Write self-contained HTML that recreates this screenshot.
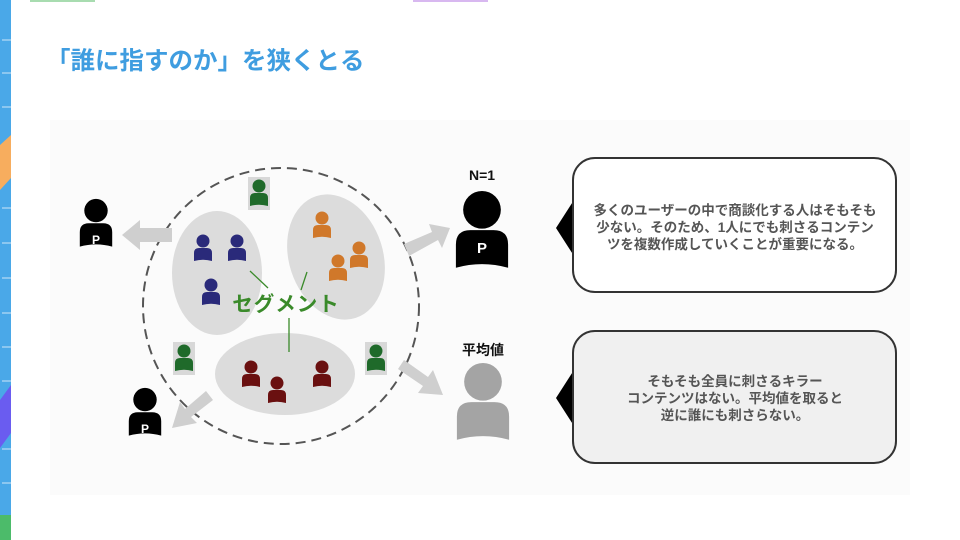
<!DOCTYPE html>
<html><head><meta charset="utf-8"><style>
body{margin:0;width:960px;height:540px;overflow:hidden;background:#fff;font-family:"Liberation Sans","Noto Sans CJK JP",sans-serif}
</style></head><body>
<svg width="960" height="540" xmlns="http://www.w3.org/2000/svg" style="position:absolute;left:0;top:0">
<defs>
<g id="p"><circle cx="0" cy="-8" r="6.5"/><path d="M-9,12 L-9,4 Q-9,-1 -4,-1 L4,-1 Q9,-1 9,4 L9,12 Q0,9.5 -9,12Z"/></g>
</defs>
<rect x="0" y="0" width="11" height="540" fill="#4aa8e8"/>
<polygon points="0,145 11,135 11,178 0,190" fill="#f7ad5e"/>
<polygon points="0,400 11,385 11,433 0,448" fill="#6a5cf0"/>
<rect x="0" y="515" width="11" height="25" fill="#4cbb6a"/>
<g stroke="#cfe6f8" stroke-width="1">
<line x1="2" y1="40" x2="11" y2="40"/><line x1="2" y1="73" x2="11" y2="73"/><line x1="2" y1="107" x2="11" y2="107"/>
<line x1="2" y1="208" x2="11" y2="208"/><line x1="2" y1="243" x2="11" y2="243"/><line x1="2" y1="278" x2="11" y2="278"/>
<line x1="2" y1="313" x2="11" y2="313"/><line x1="2" y1="347" x2="11" y2="347"/><line x1="2" y1="381" x2="11" y2="381"/>
<line x1="2" y1="449" x2="11" y2="449"/><line x1="2" y1="483" x2="11" y2="483"/>
</g>
<rect x="30" y="0" width="65" height="2" fill="#a8dcb0"/>
<rect x="413" y="0" width="75" height="2" fill="#d8b8f0"/>
<text x="46" y="69" font-size="24.5" font-weight="bold" fill="#3f9de0">「誰に指すのか」を狭くとる</text>
<rect x="50" y="120" width="860" height="375" fill="#fbfbfb"/>

<ellipse cx="217" cy="273" rx="45" ry="62" fill="#dcdcdc"/>
<ellipse cx="336" cy="257" rx="47" ry="64" transform="rotate(-18 336 257)" fill="#dcdcdc"/>
<ellipse cx="285" cy="374" rx="70" ry="41" fill="#dcdcdc"/>
<circle cx="281" cy="306" r="138" fill="none" stroke="#555" stroke-width="2" stroke-dasharray="10,6"/>

<g fill="#cfcfcf">
<polygon points="172,228 140,228 140,220 122,235 140,250 140,242 172,242"/>
<polygon points="404,244 432,232 429,224 450,228 442,248 438,240 409,256"/>
<polygon points="404,360 428,377 433,370 443,395 418,393 423,386 398,369"/>
<polygon points="206,391 185,409 180,402 172,428 197,423 191,417 213,400"/>
</g>

<g stroke="#3a8a2a" stroke-width="1.3">
<line x1="250" y1="271" x2="268" y2="288"/><line x1="307" y1="272" x2="301" y2="290"/><line x1="289" y1="318" x2="289" y2="352"/>
</g>
<text x="286" y="311" font-size="20.5" font-weight="bold" fill="#3a8a2a" text-anchor="middle" letter-spacing="1">セグメント</text>

<g fill="#2a2a7a"><use href="#p" x="203" y="249"/><use href="#p" x="237" y="249"/><use href="#p" x="211" y="293"/></g>
<g fill="#d0782a"><use href="#p" x="322" y="226"/><use href="#p" x="338" y="269"/><use href="#p" x="359" y="256"/></g>
<g fill="#6a1010"><use href="#p" x="251" y="375"/><use href="#p" x="277" y="391"/><use href="#p" x="322" y="375"/></g>
<g fill="#d8d8d8"><rect x="248" y="177" width="22" height="33"/><rect x="173" y="342" width="22" height="33"/><rect x="365" y="342" width="22" height="33"/></g>
<g fill="#1f6a2a"><use href="#p" x="259" y="194"/><use href="#p" x="184" y="359"/><use href="#p" x="376" y="359"/></g>

<g transform="translate(96,225) scale(1.8)"><use href="#p" fill="#000"/></g>
<text x="96" y="244" font-size="12" font-weight="bold" fill="#fff" text-anchor="middle">P</text>
<g transform="translate(145,414) scale(1.8)"><use href="#p" fill="#000"/></g>
<text x="145" y="433" font-size="12" font-weight="bold" fill="#fff" text-anchor="middle">P</text>
<g transform="translate(482,233) scale(2.9)"><use href="#p" fill="#000"/></g>
<text x="482" y="253" font-size="15" font-weight="bold" fill="#fff" text-anchor="middle">P</text>
<g transform="translate(483,405) scale(2.9)"><use href="#p" fill="#a4a4a4"/></g>
<text x="482" y="180" font-size="14" font-weight="bold" fill="#111" text-anchor="middle">N=1</text>
<text x="483" y="355" font-size="14" font-weight="bold" fill="#111" text-anchor="middle">平均値</text>

<polygon points="556,228 574,200 574,256" fill="#000"/>
<rect x="573" y="158" width="323" height="134" rx="22" fill="#fff" stroke="#333" stroke-width="2"/>
<g font-size="13.5" font-weight="bold" fill="#555" text-anchor="middle">
<text x="735" y="215">多くのユーザーの中で商談化する人はそもそも</text>
<text x="735" y="232">少ない。そのため、1人にでも刺さるコンテン</text>
<text x="735" y="249">ツを複数作成していくことが重要になる。</text>
</g>
<polygon points="556,398 574,370 574,426" fill="#000"/>
<rect x="573" y="331" width="323" height="132" rx="22" fill="#f0f0f0" stroke="#333" stroke-width="2"/>
<g font-size="13.5" font-weight="bold" fill="#555" text-anchor="middle">
<text x="735" y="386">そもそも全員に刺さるキラー</text>
<text x="735" y="403">コンテンツはない。平均値を取ると</text>
<text x="735" y="420">逆に誰にも刺さらない。</text>
</g>
</svg>
</body></html>
